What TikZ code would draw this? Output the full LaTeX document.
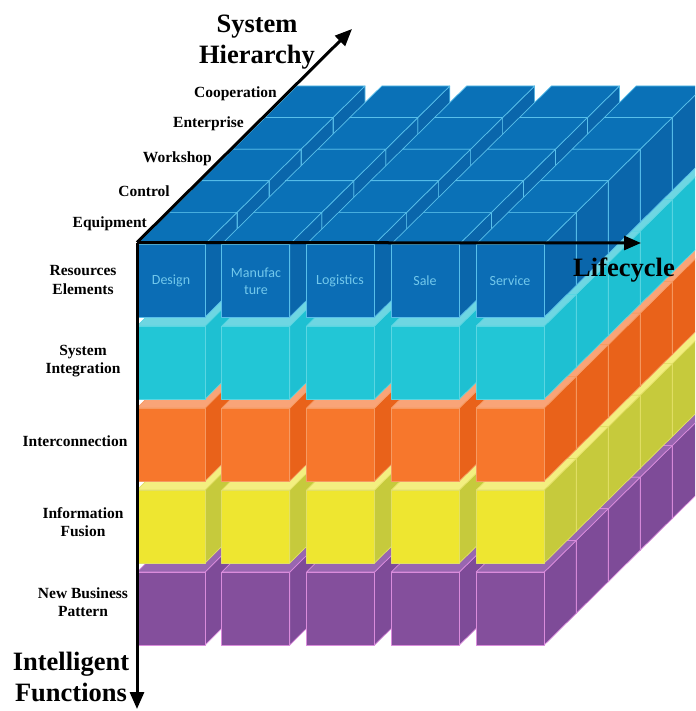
\documentclass[tikz,border=0pt]{standalone}
\usepackage{fontspec}
\setmainfont{Liberation Serif}
\newfontfamily\cubefont{Carlito}
\usetikzlibrary{arrows.meta}
\definecolor{frontA}{HTML}{0B6DB5}\definecolor{topA}{HTML}{0A71B7}\definecolor{sideA}{HTML}{0A66AB}\definecolor{edgeA}{HTML}{58BFEA}
\definecolor{frontB}{HTML}{22C6D6}\definecolor{topB}{HTML}{6ED6E2}\definecolor{sideB}{HTML}{1EC0D2}\definecolor{edgeB}{HTML}{5AD6E2}
\definecolor{frontC}{HTML}{F7772C}\definecolor{topC}{HTML}{F9A478}\definecolor{sideC}{HTML}{E9621A}\definecolor{edgeC}{HTML}{F69A62}
\definecolor{frontD}{HTML}{EEE630}\definecolor{topD}{HTML}{F3EF80}\definecolor{sideD}{HTML}{C6CA3C}\definecolor{edgeD}{HTML}{E2E066}
\definecolor{frontE}{HTML}{844F9C}\definecolor{topE}{HTML}{9866B0}\definecolor{sideE}{HTML}{7E4B98}\definecolor{edgeE}{HTML}{DA8CDC}
\definecolor{cubetext}{HTML}{72C8EC}
\begin{document}
\begin{tikzpicture}[x=1pt,y=-1pt,
  face/.style={line width=0.7pt, line join=round},
  axis/.style={line width=3pt, -{Triangle[length=17pt,width=14pt]}},
  rowlab/.style={font=\fontsize{15.5}{18}\selectfont\bfseries, inner sep=0pt, anchor=east},
  laylab/.style={font=\fontsize{15.5}{18.5}\selectfont\bfseries, inner sep=0pt, align=center},
  biglab/.style={font=\fontsize{26.5}{31}\selectfont\bfseries, inner sep=0pt, align=center},
  cubelab/.style={font=\cubefont\fontsize{14}{17}\selectfont, text=cubetext, inner sep=0pt, align=center}]
\useasboundingbox (0,0) rectangle (695,711);
\fill[white] (0,0) rectangle (695,711);
\begin{scope}
\clip (0,0) rectangle (695,711);
\foreach \r in {4,3,2,1,0}{
 \foreach \L/\lc in {4/E,3/D,2/C,1/B,0/A}{
  \foreach \i in {0,...,4}{
   \pgfmathsetmacro\xa{137+84.8*\i+32*\r}
   \pgfmathsetmacro\ya{244+82*\L-31.6*\r}
   \pgfmathsetmacro\xb{\xa+68}
   \pgfmathsetmacro\yb{\ya+73}
   \pgfmathsetmacro\xc{\xb+32}
   \pgfmathsetmacro\yc{\ya-31.6}
   \pgfmathsetmacro\yd{\yb-31.6}
   \pgfmathsetmacro\xe{\xa+32}
   \draw[face, fill=side\lc, draw=edge\lc] (\xb,\ya) -- (\xc,\yc) -- (\xc,\yd) -- (\xb,\yb) -- cycle;
   \draw[face, fill=top\lc, draw=edge\lc] (\xa,\ya) -- (\xb,\ya) -- (\xc,\yc) -- (\xe,\yc) -- cycle;
   \draw[face, fill=front\lc, draw=edge\lc] (\xa,\ya) rectangle (\xb,\yb);
  }
 }
}
\end{scope}
% cube labels
\node[cubelab] (design) at (171,281) {Design};
\node[cubelab] (manuf) at (256,281) {Manufac\\ture};
\node[cubelab] (logis) at (340,281) {Logistics};
\node[cubelab] (sale) at (425,281) {Sale};
\node[cubelab] (serv) at (510,281) {Service};
% axes
\coordinate (O) at (137,242.5);
\coordinate (LC) at (641,243);
\coordinate (SH) at (352,29);
\coordinate (IF) at (137,709);
\draw[axis] (O) -- (LC);
\draw[axis] (O) -- (SH);
\draw[axis] (O) -- (IF);
% axis labels
\node[biglab] (sysh) at (257,42) {System\\Hierarchy};
\node[biglab] (life) at (624,270) {Lifecycle};
\node[biglab] (intf) at (71,677) {Intelligent\\Functions};
% row labels
\node[rowlab] (coop) at (277,94) {Cooperation};
\node[rowlab] (ent) at (244,124) {Enterprise};
\node[rowlab] (work) at (212,159) {Workshop};
\node[rowlab] (ctrl) at (170,191) {Control};
\node[rowlab] (equip) at (147,224) {Equipment};
% layer labels
\node[laylab] (res) at (83,280) {Resources\\Elements};
\node[laylab] (sysi) at (83,361) {System\\Integration};
\node[laylab] (inter) at (75,441) {Interconnection};
\node[laylab] (info) at (83,522) {Information\\Fusion};
\node[laylab] (newb) at (83,602) {New Business\\Pattern};
\end{tikzpicture}
\end{document}
